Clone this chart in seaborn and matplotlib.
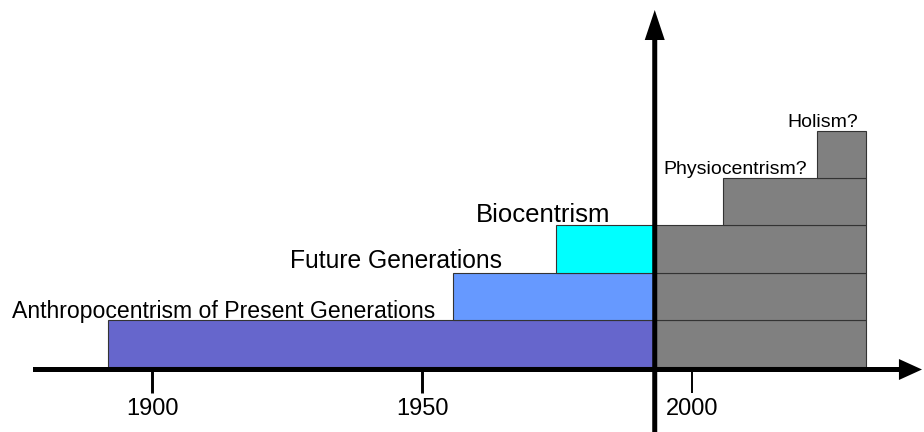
import matplotlib
matplotlib.use("Agg")
import matplotlib.pyplot as plt
import seaborn as sns
import pandas as pd

# ---------------- data ----------------
labels = ["Anthropocentrism of Present Generations", "Future Generations",
          "Biocentrism", "Physiocentrism?", "Holism?"]
start_years = [1891.9, 1955.7, 1974.8, 2005.7, 2023.1]
levels = [0, 1, 2, 3, 4]
present_year = 1993.1
horizon_year = 2032.2
past_colors = ["#6666CC", "#6699FF", "#00FFFF"]
future_color = "#808080"
tick_years = [1900, 1950, 2000]
tick_labels = ["1900", "1950", "2000"]

# segments: coloured past part (up to present) + gray future part
rows = []
for lab, s, lv in zip(labels, start_years, levels):
    if s < present_year:
        rows.append(dict(label=lab, level=lv, start=s, end=present_year,
                         color=past_colors[lv]))
        rows.append(dict(label=lab, level=lv, start=present_year, end=horizon_year,
                         color=future_color))
    else:
        rows.append(dict(label=lab, level=lv, start=s, end=horizon_year,
                         color=future_color))
seg = pd.DataFrame(rows)

# ---------------- layout ----------------
sns.set_style("white")
plt.rcParams["font.family"] = ["Liberation Sans", "DejaVu Sans"]

W, H, DPI = 924, 432, 100
PX_PER_YEAR = 5.4
PX_PER_LEVEL = 47.2
X_REF_PX, Y_BASE_PX = 152, 367


def xd(px):
    return 1900 + (px - X_REF_PX) / PX_PER_YEAR


def yd(py):
    return (Y_BASE_PX - py) / PX_PER_LEVEL


fig = plt.figure(figsize=(W / DPI, H / DPI), dpi=DPI)
ax = fig.add_axes([0, 0, 1, 1])
ax.set_xlim(xd(0), xd(W))
ax.set_ylim(yd(H), yd(0))

ax.barh(y=seg["level"] + 0.5, width=seg["end"] - seg["start"], left=seg["start"],
        height=1.0, color=seg["color"], edgecolor="#333333", linewidth=0.8,
        zorder=2)

# labels (right end px, baseline px, font size pt)
label_layout = [(435, 317.7, 16.6), (502, 268, 17.7), (610, 222, 18.5),
                (807, 174, 14.0), (858, 127.3, 14.0)]
for lab, (rx, by, fs) in zip(labels, label_layout):
    ax.text(xd(rx), yd(by), lab, ha="right", va="baseline", fontsize=fs,
            color="black", zorder=4)

# axes arrows
axis_y = yd(369.5)
ax.annotate("", xy=(xd(922), axis_y), xytext=(xd(33), axis_y),
            arrowprops=dict(arrowstyle="simple,head_length=16.6,head_width=15.1,tail_width=3.6",
                            mutation_scale=1, lw=0, color="black",
                            shrinkA=0, shrinkB=0), zorder=5)
ax.annotate("", xy=(present_year, yd(10)), xytext=(present_year, yd(H + 10)),
            arrowprops=dict(arrowstyle="simple,head_length=21.6,head_width=14.4,tail_width=3.6",
                            mutation_scale=1, lw=0, color="black",
                            shrinkA=0, shrinkB=0), zorder=6)

# ticks
for sp in ax.spines.values():
    sp.set_visible(False)
ax.spines["bottom"].set_position(("data", axis_y))
ax.set_xticks(tick_years)
ax.set_xticklabels(tick_labels)
ax.set_yticks([])
ax.tick_params(axis="x", direction="out", length=16.2, width=2.1, color="black",
               labelsize=17, labelcolor="black", pad=4.0, bottom=True)
ax.xaxis.get_major_ticks()[2].tick1line.set_markeredgewidth(1.4)
ax.set_facecolor("white")

fig.savefig("out.png", dpi=DPI, facecolor="white")
